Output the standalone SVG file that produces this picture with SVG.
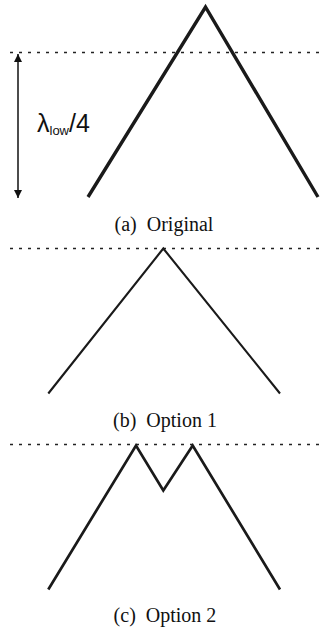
<svg xmlns="http://www.w3.org/2000/svg" width="320" height="631" viewBox="0 0 320 631">
  <defs>
    <style>
      .dot { stroke: #222; stroke-width: 1.3; stroke-dasharray: 3 6; fill: none; }
      .shape { stroke: #1a1a1a; fill: none; stroke-linejoin: miter; stroke-linecap: butt; }
      .cap { font-family: "Liberation Serif", "Times New Roman", serif; font-size: 20px; fill: #111; text-anchor: middle; }
      .lbl { font-family: "Liberation Sans", Arial, sans-serif; fill: #111; }
    </style>
    <marker id="ah" viewBox="0 0 10 10" refX="10" refY="5" markerWidth="10" markerHeight="8" markerUnits="userSpaceOnUse" orient="auto-start-reverse">
      <path d="M0,0 L10,5 L0,10 Z" fill="#111"/>
    </marker>
  </defs>
  <rect width="320" height="631" fill="#fff"/>

  <g id="panel-a">
    <line class="dot" x1="10" y1="52.5" x2="320" y2="52.5"/>
    <polyline class="shape" stroke-width="3.4" points="88,197 205.5,7 318,197"/>
    <line x1="18" y1="54" x2="18" y2="198" stroke="#111" stroke-width="1.5" marker-start="url(#ah)" marker-end="url(#ah)"/>
    <text class="lbl" x="37" y="132" font-size="25">λ<tspan font-size="13" dy="3">low</tspan><tspan dy="-3">/4</tspan></text>
    <text class="cap" x="164" y="231" xml:space="preserve">(a)  Original</text>
  </g>

  <g id="panel-b">
    <line class="dot" x1="10" y1="248.5" x2="320" y2="248.5"/>
    <polyline class="shape" stroke-width="2.1" points="48.3,393.5 163.3,248.5 280,393.5"/>
    <text class="cap" x="165" y="427" xml:space="preserve">(b)  Option 1</text>
  </g>

  <g id="panel-c">
    <line class="dot" x1="10" y1="444.5" x2="320" y2="444.5"/>
    <polyline class="shape" stroke-width="2.7" points="48.3,589.5 136,445.5 163.3,490.5 192.7,445.5 280,589.5"/>
    <text class="cap" x="165" y="622" xml:space="preserve">(c)  Option 2</text>
  </g>
</svg>
